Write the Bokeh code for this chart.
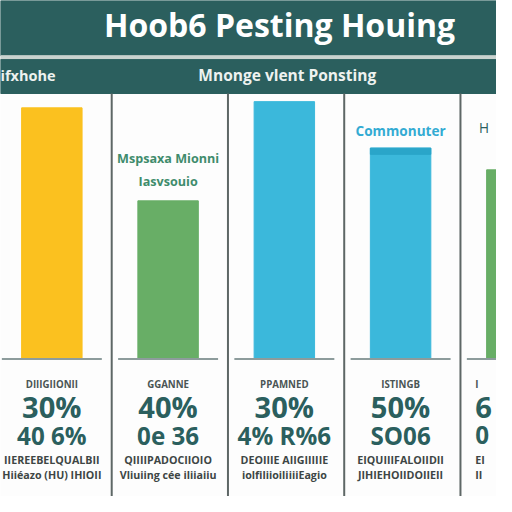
from bokeh.plotting import figure
from bokeh.models import Range1d, ColumnDataSource
from bokeh.core.properties import value
from bokeh.embed import file_html
from bokeh.resources import INLINE

# ---- data ----
categories = ["Fixhohe", "Mspsaxa", "Ppamned", "Commonuter", "Hiostie"]
bar_values = [81, 51, 83, 68, 61]
bar_colors = ["#fbc11f", "#68ae66", "#3bb8db", "#3bb8db", "#68ae66"]
small_labels = ["DIIIGIIONII", "GGANNE", "PPAMNED", "ISTINGB", "I"]
percent_labels = ["30%", "40%", "30%", "50%", "6"]
second_labels = ["40 6%", "0e 36", "4% R%6", "SO06", "0"]
note_line1 = ["IIEREEBELQUALBII", "QIIIIPADOCIIOIO", "DEOIIIE AIIGIIIIIE", "EIQUIIIFALOIIDII", "EI"]
note_line2 = ["Hiiéazo (HU) IHIOII", "Vliuiing cée iliiaiiu", "iolfiliioiliiiiEagio", "JIHIEHOIIDOIIEII", "II"]
title = "Hoob6 Pesting Houing"
subtitle = "Mnonge vlent Ponsting"
left_header = "ifxhohe"

# ---- layout helpers (reference pixel -> data) ----
W = 496
S = W / 512.0
PX_PER_CAT = 120.0
PX_PER_VAL = 3.2
X0 = -53 / PX_PER_CAT
BASE = 370

def X(px):
    return X0 + px / PX_PER_CAT

def Y(py):
    return (BASE - py) / PX_PER_VAL

def fs(px):
    return f"{px * S:.1f}px"

idx = list(range(len(categories)))

p = figure(width=W, height=W, output_backend="svg", toolbar_location=None,
           x_range=Range1d(X(0), X(512)), y_range=Range1d(Y(512), Y(0)),
           min_border=0)
p.axis.visible = False
p.grid.visible = False
p.outline_line_color = None
p.background_fill_color = "#fdfdfd"
p.border_fill_color = "#fdfdfd"

teal = "#2b5f5e"
# header bands
p.quad(left=X(0), right=X(512), top=Y(0), bottom=Y(57), color=teal)
p.quad(left=X(0), right=X(512), top=Y(57), bottom=Y(61), color="#c9d3cf")
p.quad(left=X(0), right=X(512), top=Y(61), bottom=Y(96), color=teal)

# dividers
div_x = [i + 0.515 for i in idx[:-1]]
p.segment(x0=div_x, x1=div_x, y0=[Y(96)] * len(div_x), y1=[Y(512)] * len(div_x),
          line_color="#5e6766", line_width=2)

# bars
src = ColumnDataSource(dict(x=idx, top=bar_values, color=bar_colors))
p.vbar(x="x", top="top", bottom=0, width=0.52, color="color", source=src)
# darker cap on 4th bar
p.quad(left=idx[3] - 0.26, right=idx[3] + 0.26, top=bar_values[3],
       bottom=bar_values[3] - 2, color="#2aa5c9")

# baselines
p.segment(x0=[i - 0.43 for i in idx], x1=[i + 0.43 for i in idx],
          y0=[0] * len(idx), y1=[0] * len(idx), line_color="#8d9c9c", line_width=2)

# header texts
p.text(x=[X(288)], y=[Y(25)], text=[title], text_color="white",
       text_font=value("Open Sans"), text_font_style="bold", text_font_size=fs(33),
       text_align="center", text_baseline="middle")
p.text(x=[X(296)], y=[Y(77)], text=[subtitle], text_color="#eef2f0",
       text_font=value("Open Sans"), text_font_style="bold", text_font_size=fs(16),
       text_align="center", text_baseline="middle")
p.text(x=[X(0)], y=[Y(77)], text=[left_header], text_color="#eef2f0",
       text_font=value("Open Sans"), text_font_style="bold", text_font_size=fs(15),
       text_align="left", text_baseline="middle")

# inner labels
p.text(x=[1, 1], y=[Y(163), Y(187)], text=["Mspsaxa Mionni", "Iasvsouio"],
       text_color="#3f8c6c", text_font=value("Open Sans"), text_font_style="bold",
       text_font_size=fs(13), text_align="center", text_baseline="middle")
p.text(x=[3], y=[Y(134)], text=["Commonuter"], text_color="#33abd3",
       text_font=value("Open Sans"), text_font_style="bold", text_font_size=fs(14),
       text_align="center", text_baseline="middle")
p.text(x=[X(494)], y=[Y(131)], text=["H"], text_color=teal,
       text_font=value("Open Sans"), text_font_size=fs(14),
       text_align="left", text_baseline="middle")

# bottom texts (first four panels centred, last panel at right edge)
m = len(idx) - 1
rows = [
    (small_labels, 396, "#4a5554", 10),
    (percent_labels, 420, teal, 30),
    (second_labels, 449, teal, 25),
    (note_line1, 474, "#3d4645", 11),
    (note_line2, 490, "#3d4645", 11),
]
for labels, py, col, size in rows:
    p.text(x=idx[:m], y=[Y(py)] * m, text=labels[:m], text_color=col,
           text_font=value("Open Sans"), text_font_style="bold", text_font_size=fs(size),
           text_align="center", text_baseline="middle")
    p.text(x=[X(490)], y=[Y(py)], text=labels[m:], text_color=col,
           text_font=value("Open Sans"), text_font_style="bold", text_font_size=fs(size),
           text_align="left", text_baseline="middle")

open("out.html", "w").write(file_html(p, INLINE))
